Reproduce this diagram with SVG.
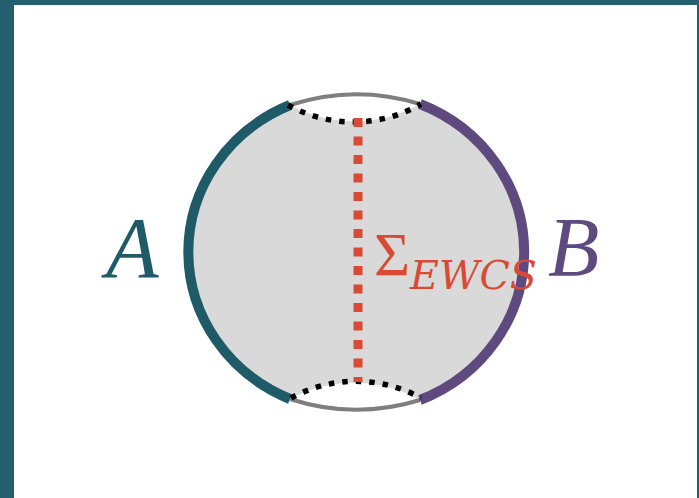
<svg xmlns="http://www.w3.org/2000/svg" width="699" height="498" viewBox="0 0 699 498">
  <style>
    .gray { fill: none; stroke: #7f7f7f; stroke-width: 4; }
    .region { fill: none; stroke-width: 10; stroke-linecap: butt; }
    .dots { fill: none; stroke: #000; stroke-width: 5.5; stroke-dasharray: 5.5 8; }
    .lbl { font-family: "Liberation Serif", "DejaVu Serif", serif; font-style: italic; }
  </style>
  <rect x="0" y="0" width="699" height="498" fill="#246070"/>
  <rect x="14" y="5" width="683" height="493" fill="#ffffff"/>

  <g id="wedge">
    <path d="M290,105 A135,135 0 0 0 420,104 A168,160 0 0 1 420,400 A135,135 0 0 0 290,399 A168,160 0 0 1 290,105 Z" fill="#d9d9d9"/>
  </g>

  <g id="boundary">
    <path class="gray" d="M290,105 A215,215 0 0 1 420,104"/>
    <path class="gray" d="M290,399 A215,215 0 0 0 420,400"/>
  </g>

  <g id="regionA">
    <path class="region" stroke="#1f5a68" d="M290,105 A168,160 0 0 0 290,399"/>
    <text class="lbl" x="106" y="277" font-size="86" fill="#1f5a68">A</text>
  </g>

  <g id="regionB">
    <path class="region" stroke="#5e4a7e" d="M420,104 A168,160 0 0 1 420,400"/>
    <text class="lbl" x="548" y="276" font-size="84" fill="#5e4a7e">B</text>
  </g>

  <g id="connectors">
    <path class="dots" d="M288,105 A135,135 0 0 0 421,104"/>
    <path class="dots" d="M291,398 A135,135 0 0 1 421,398"/>
    <line x1="358" y1="118" x2="358" y2="382" stroke="#d84a33" stroke-width="9" stroke-dasharray="9 9.5"/>
  </g>

  <g id="ewcs">
    <text x="374" y="275" font-family="Liberation Serif, DejaVu Serif, serif" font-size="62" fill="#d84a33">Σ</text>
    <text x="410" y="289" font-family="DejaVu Serif, Liberation Serif, serif" font-style="italic" font-size="40" fill="#d84a33" textLength="127" lengthAdjust="spacingAndGlyphs">EWCS</text>
  </g>
</svg>
